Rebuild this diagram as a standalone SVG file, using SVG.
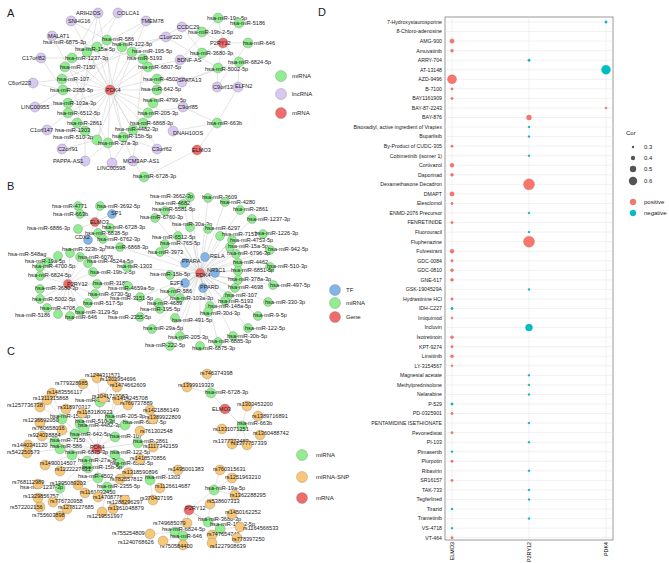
<svg xmlns="http://www.w3.org/2000/svg" width="669" height="563" viewBox="0 0 669 563">
<style>
.e{stroke:#c4c4c4;stroke-width:0.45;fill:none}
.g{fill:#90ee90;stroke:#6a6a6a;stroke-width:0.3}
.p{fill:#d8c8f2;stroke:#6a6a6a;stroke-width:0.3}
.r{fill:#f06b6b;stroke:#6a6a6a;stroke-width:0.3}
.b{fill:#82b4e8;stroke:#6a6a6a;stroke-width:0.3}
.o{fill:#f8c778;stroke:#6a6a6a;stroke-width:0.3}
text{font-family:"Liberation Sans",Arial,sans-serif;font-size:5.6px;fill:#1a1a1a}
.pl{font-size:11px}
.lg{font-size:6px}
.dl{font-size:5.2px;text-anchor:end}
.ax{font-size:5.4px;text-anchor:end;fill:#000}
.grid{stroke:#e3e3e3;stroke-width:0.5;fill:none}
.dp{fill:#F8766D;stroke:#c85a52;stroke-width:0.3}
.dn{fill:#00BFC4;stroke:#00979b;stroke-width:0.3}
</style>
<rect width="669" height="563" fill="#ffffff"/>
<text class="pl" x="7" y="17">A</text>
<text class="pl" x="7" y="190">B</text>
<text class="pl" x="7" y="355">C</text>
<text class="pl" x="318" y="16">D</text>

<g id="connectors">
<path class="e" d="M110 90L107 40M110 90L97 47M110 90L122 47M110 90L87 52M110 90L132 52M110 90L72 58M110 90L143 59M110 90L65 67M110 90L148 67M110 90L62 79M110 90L157 79M110 90L63 90M110 90L157 90M110 90L68 103M110 90L153 103M110 90L68 113M110 90L148 113M110 90L77 123M110 90L143 123M110 90L85 131M110 90L133 130M110 90L97 140M110 90L123 137M110 90L108 143M223 43L218 18M223 43L239 23M223 43L202 32M223 43L248 43M223 43L202 53M223 43L239 62M223 43L218 68M197 150L217 123M197 150L144 177M98 13L72 58M98 13L77 123M98 13L123 137M118 13L65 67M118 13L68 113M71 21L107 40M71 21L133 130M146 21L97 47M146 21L68 103M146 21L97 140M52 36L87 52M52 36L143 59M52 36L108 143M166 37L122 47M166 37L62 79M166 37L218 68M182 27L202 32M182 27L202 53M182 27L132 52M41 58L72 58M41 58L63 90M180 60L202 53M180 60L148 67M180 60L218 18M33 83L62 79M33 83L63 90M182 82L239 62M182 82L157 79M182 82L218 68M217 87L218 68M217 87L248 43M238 87L239 62M238 87L217 123M35 107L68 103M35 107L63 90M183 107L157 90M183 107L148 113M183 107L217 123M47 130L68 113M47 130L85 131M173 131L217 123M173 131L153 103M62 149L97 140M62 149L77 123M157 149L123 137M157 149L143 123M85 161L108 143M85 161L85 131M112 163L108 143M112 163L133 130M133 161L144 177M133 161L123 137M133 161L143 59"/>
<path class="e" d="M95 222L78 206M95 222L100 206M95 222L80 214M95 222L78 229M95 222L110 228M95 222L98 233M95 222L103 239M95 222L112 214M95 222L88 240M68 284L58 256M68 284L70 253M68 284L48 262M68 284L80 257M68 284L88 263M68 284L40 267M68 284L93 272M68 284L40 276M68 284L40 289M68 284L97 284M68 284L128 286M68 284L95 294M68 284L40 299M68 284L88 303M68 284L47 308M68 284L80 311M68 284L58 314M68 284L70 316M200 273L205 257M200 273L185 263M200 273L215 273M200 273L185 283M200 273L203 288M200 273L120 247M200 273L127 267M200 273L190 197M200 273L183 204M200 273L165 211M200 273L155 218M200 273L208 198M200 273L225 202M200 273L240 210M200 273L252 219M200 273L190 227M200 273L208 229M200 273L263 234M200 273L220 236M200 273L178 236M200 273L232 240M200 273L165 244M200 273L230 247M200 273L270 250M200 273L160 252M200 273L236 254M200 273L238 263M200 273L270 267M200 273L238 271M200 273L170 275M200 273L238 280M200 273L235 288M200 273L273 285M200 273L172 292M200 273L228 296M200 273L180 298M200 273L225 301M200 273L268 302M200 273L140 297M200 273L158 303M200 273L210 306M200 273L160 309M200 273L208 312M200 273L258 316M200 273L140 317M200 273L175 318M200 273L248 328M200 273L152 329M200 273L180 336M200 273L233 336M200 273L218 342M200 273L170 346M200 273L200 346"/>
<path class="e" d="M97 449L100 402M97 449L62 419M97 449L110 418M97 449L80 424M97 449L84 429M97 449L125 425M97 449L75 434M97 449L115 437M97 449L55 442M97 449L138 443M97 449L60 449M97 449L72 455M97 449L115 455M97 449L87 461M97 449L120 463M97 449L88 468M97 449L98 478M97 449L107 487M97 449L60 488M97 449L150 480M100 402L97 378M100 402L112 381M100 402L83 384M110 418L117 387M62 419L52 393M100 402L103 398M110 418L118 400M62 419L47 400M62 419L40 407M80 424L66 409M110 418L128 405M125 425L150 410M80 424L82 413M62 419L40 423M125 425L153 419M75 434L62 430M55 442L42 436M138 443L140 431M55 442L28 445M60 449L27 453M138 443L153 447M72 455L45 465M120 463L140 459M87 461L60 471M120 463L128 473M150 480L178 470M60 488L38 484M98 478L78 485M107 487L120 479M150 480L160 488M107 487L85 493M60 488L38 498M107 487L98 497M150 480L153 500M60 488L53 502M107 487L125 500M60 488L40 507M60 488L67 509M107 487L113 509M60 488L60 516M107 487L102 512M225 409L211 393M225 409L242 426M211 393L207 374M211 393L187 387M242 426L247 406M242 426L258 416M242 426L222 429M242 426L260 435M242 426L232 444M242 426L247 445M189 510L214 490M189 510L208 522M189 510L220 529M189 510L175 532M189 510L183 536M214 490L220 470M214 490L232 478M214 490L235 495M208 522L210 504M208 522L232 514M175 532L187 523M220 529L240 527M220 529L212 535M220 529L237 538M183 536L183 545M220 529L212 543M175 532L150 534M183 536L163 541"/>
</g>

<g id="panelA">
<g id="A-miR-586"><circle class="g" cx="107" cy="40" r="5"/><text x="102" y="41">hsa-miR-586</text></g>
<g id="A-miR-6875-3p"><circle class="g" cx="97" cy="47" r="5"/><text x="43" y="44">hsa-miR-6875-3p</text></g>
<g id="A-miR-122-5p"><circle class="g" cx="122" cy="47" r="5"/><text x="112" y="46">hsa-miR-122-5p</text></g>
<g id="A-miR-15a-5p"><circle class="g" cx="87" cy="52" r="5"/><text x="75" y="51">hsa-miR-15a-5p</text></g>
<g id="A-miR-195-5p"><circle class="g" cx="132" cy="52" r="5"/><text x="132" y="53">hsa-miR-195-5p</text></g>
<g id="A-miR-1237-3p"><circle class="g" cx="72" cy="58" r="5"/><text x="65" y="60">hsa-miR-1237-3p</text></g>
<g id="A-miR-5193"><circle class="g" cx="143" cy="59" r="5"/><text x="127" y="60">hsa-miR-5193</text></g>
<g id="A-miR-7150"><circle class="g" cx="65" cy="67" r="5"/><text x="60" y="69">hsa-miR-7150</text></g>
<g id="A-miR-6807-5p"><circle class="g" cx="148" cy="67" r="5"/><text x="138" y="69">hsa-miR-6807-5p</text></g>
<g id="A-miR-107"><circle class="g" cx="62" cy="79" r="5"/><text x="57" y="81">hsa-miR-107</text></g>
<g id="A-miR-4502"><circle class="g" cx="157" cy="79" r="5"/><text x="143" y="81">hsa-miR-4502</text></g>
<g id="A-miR-2355-5p"><circle class="g" cx="63" cy="90" r="5"/><text x="50" y="92">hsa-miR-2355-5p</text></g>
<g id="A-miR-642-5p"><circle class="g" cx="157" cy="90" r="5"/><text x="141" y="91">hsa-miR-642-5p</text></g>
<g id="A-miR-103a-3p"><circle class="g" cx="68" cy="103" r="5"/><text x="53" y="105">hsa-miR-103a-3p</text></g>
<g id="A-miR-4799-5p"><circle class="g" cx="153" cy="103" r="5"/><text x="143" y="102">hsa-miR-4799-5p</text></g>
<g id="A-miR-6512-5p"><circle class="g" cx="68" cy="113" r="5"/><text x="57" y="115">hsa-miR-6512-5p</text></g>
<g id="A-miR-205-3p"><circle class="g" cx="148" cy="113" r="5"/><text x="138" y="115">hsa-miR-205-3p</text></g>
<g id="A-miR-2861"><circle class="g" cx="77" cy="123" r="5"/><text x="67" y="125">hsa-miR-2861</text></g>
<g id="A-miR-6868-3p"><circle class="g" cx="143" cy="123" r="5"/><text x="130" y="125">hsa-miR-6868-3p</text></g>
<g id="A-miR-1303"><circle class="g" cx="85" cy="131" r="5"/><text x="55" y="132">hsa-miR-1303</text></g>
<g id="A-miR-4482-3p"><circle class="g" cx="133" cy="130" r="5"/><text x="115" y="131">hsa-miR-4482-3p</text></g>
<g id="A-miR-510-3p"><circle class="g" cx="97" cy="140" r="5"/><text x="53" y="139">hsa-miR-510-3p</text></g>
<g id="A-miR-15b-5p"><circle class="g" cx="123" cy="137" r="5"/><text x="112" y="138">hsa-miR-15b-5p</text></g>
<g id="A-miR-27a-3p"><circle class="g" cx="108" cy="143" r="5"/><text x="98" y="145">hsa-miR-27a-3p</text></g>
<g id="A-miR-6728-3p"><circle class="g" cx="144" cy="177" r="5"/><text x="133" y="178">hsa-miR-6728-3p</text></g>
<g id="A-miR-663b"><circle class="g" cx="217" cy="123" r="5"/><text x="207" y="125">hsa-miR-663b</text></g>
<g id="A-miR-19a-5p"><circle class="g" cx="218" cy="18" r="5"/><text x="207" y="20">hsa-miR-19a-5p</text></g>
<g id="A-miR-5186"><circle class="g" cx="239" cy="23" r="5"/><text x="230" y="25">hsa-miR-5186</text></g>
<g id="A-miR-19b-2-5p"><circle class="g" cx="202" cy="32" r="5"/><text x="188" y="34">hsa-miR-19b-2-5p</text></g>
<g id="A-miR-646"><circle class="g" cx="248" cy="43" r="5"/><text x="243" y="45">hsa-miR-646</text></g>
<g id="A-miR-3680-3p"><circle class="g" cx="202" cy="53" r="5"/><text x="190" y="55">hsa-miR-3680-3p</text></g>
<g id="A-miR-6824-5p"><circle class="g" cx="239" cy="62" r="5"/><text x="228" y="64">hsa-miR-6824-5p</text></g>
<g id="A-miR-5002-5p"><circle class="g" cx="218" cy="68" r="5"/><text x="205" y="71">hsa-miR-5002-5p</text></g>
<g id="A-ARIH2OS"><circle class="p" cx="98" cy="13" r="5"/><text x="76" y="15">ARIH2OS</text></g>
<g id="A-COLCA1"><circle class="p" cx="118" cy="13" r="5"/><text x="117" y="15">COLCA1</text></g>
<g id="A-SNHG16"><circle class="p" cx="71" cy="21" r="5"/><text x="68" y="23">SNHG16</text></g>
<g id="A-TMEM78"><circle class="p" cx="146" cy="21" r="5"/><text x="141" y="23">TMEM78</text></g>
<g id="A-MALAT1"><circle class="p" cx="52" cy="36" r="5"/><text x="48" y="38">MALAT1</text></g>
<g id="A-C1orf220"><circle class="p" cx="166" cy="37" r="5"/><text x="159" y="39">C1orf220</text></g>
<g id="A-CCDC29"><circle class="p" cx="182" cy="27" r="5"/><text x="177" y="29">CCDC29</text></g>
<g id="A-C17orf82"><circle class="p" cx="41" cy="58" r="5"/><text x="22" y="60">C17orf82</text></g>
<g id="A-BDNF-AS"><circle class="p" cx="180" cy="60" r="5"/><text x="177" y="62">BDNF-AS</text></g>
<g id="A-C6orf223"><circle class="p" cx="33" cy="83" r="5"/><text x="8" y="85">C6orf223</text></g>
<g id="A-SPATA13"><circle class="p" cx="182" cy="82" r="5"/><text x="178" y="82">SPATA13</text></g>
<g id="A-C9orf139"><circle class="p" cx="217" cy="87" r="5"/><text x="213" y="89">C9orf139</text></g>
<g id="A-ELFN2"><circle class="p" cx="238" cy="87" r="5"/><text x="235" y="88">ELFN2</text></g>
<g id="A-LINC00955"><circle class="p" cx="35" cy="107" r="5"/><text x="21" y="109">LINC00955</text></g>
<g id="A-C9orf85"><circle class="p" cx="183" cy="107" r="5"/><text x="178" y="109">C9orf85</text></g>
<g id="A-C1orf147"><circle class="p" cx="47" cy="130" r="5"/><text x="30" y="132">C1orf147</text></g>
<g id="A-DNAH10OS"><circle class="p" cx="173" cy="131" r="5"/><text x="173" y="135">DNAH10OS</text></g>
<g id="A-C2orf91"><circle class="p" cx="62" cy="149" r="5"/><text x="58" y="151">C2orf91</text></g>
<g id="A-C3orf62"><circle class="p" cx="157" cy="149" r="5"/><text x="152" y="151">C3orf62</text></g>
<g id="A-PAPPA-AS1"><circle class="p" cx="85" cy="161" r="5"/><text x="53" y="163">PAPPA-AS1</text></g>
<g id="A-LINC00598"><circle class="p" cx="112" cy="163" r="5"/><text x="97" y="170">LINC00598</text></g>
<g id="A-MCM3AP-AS1"><circle class="p" cx="133" cy="161" r="5"/><text x="123" y="163">MCM3AP-AS1</text></g>
<g id="A-P2RY12"><circle class="r" cx="223" cy="43" r="5"/><text x="210" y="45">P2RY12</text></g>
<g id="A-PDK4"><circle class="r" cx="110" cy="90" r="5"/><text x="106" y="92">PDK4</text></g>
<g id="A-ELMO3"><circle class="r" cx="197" cy="150" r="5"/><text x="192" y="152">ELMO3</text></g>
<g id="A-legend">
<circle class="g" cx="281" cy="76" r="5.5"/><text class="lg" x="292" y="78">miRNA</text>
<circle class="p" cx="281" cy="94" r="5.5"/><text class="lg" x="292" y="96">lncRNA</text>
<circle class="r" cx="281" cy="113" r="5.5"/><text class="lg" x="292" y="115">mRNA</text>
</g>
</g>

<g id="panelB">
<g id="B-ELMO3"><circle class="r" cx="95" cy="222" r="4.5"/><text x="90" y="224">ELMO3</text></g>
<g id="B-SP1"><circle class="b" cx="112" cy="214" r="4.5"/><text x="111" y="215">SP1</text></g>
<g id="B-CDX2"><circle class="b" cx="88" cy="240" r="4.5"/><text x="75" y="239">CDX2</text></g>
<g id="B-miR-4771"><circle class="g" cx="78" cy="206" r="4.5"/><text x="52" y="208">hsa-miR-4771</text></g>
<g id="B-miR-3692-5p"><circle class="g" cx="100" cy="206" r="4.5"/><text x="97" y="208">hsa-miR-3692-5p</text></g>
<g id="B-miR-663b"><circle class="g" cx="80" cy="214" r="4.5"/><text x="53" y="216">hsa-miR-663b</text></g>
<g id="B-miR-6886-3p"><circle class="g" cx="78" cy="229" r="4.5"/><text x="27" y="230">hsa-miR-6886-3p</text></g>
<g id="B-miR-6728-3p"><circle class="g" cx="110" cy="228" r="4.5"/><text x="102" y="229">hsa-miR-6728-3p</text></g>
<g id="B-miR-6838-5p"><circle class="g" cx="98" cy="233" r="4.5"/><text x="85" y="235">hsa-miR-6838-5p</text></g>
<g id="B-miR-6762-3p"><circle class="g" cx="103" cy="239" r="4.5"/><text x="97" y="241">hsa-miR-6762-3p</text></g>
<g id="B-P2RY12"><circle class="r" cx="68" cy="284" r="4.5"/><text x="67" y="286">P2RY12</text></g>
<g id="B-miR-548ag"><circle class="g" cx="58" cy="256" r="4.5"/><text x="8" y="256">hsa-miR-548ag</text></g>
<g id="B-miR-323b-3p"><circle class="g" cx="70" cy="253" r="4.5"/><text x="62" y="251">hsa-miR-323b-3p</text></g>
<g id="B-miR-19a-5p"><circle class="g" cx="48" cy="262" r="4.5"/><text x="25" y="263">hsa-miR-19a-5p</text></g>
<g id="B-miR-6076"><circle class="g" cx="80" cy="257" r="4.5"/><text x="78" y="259">hsa-miR-6076</text></g>
<g id="B-miR-4524a-5p"><circle class="g" cx="88" cy="263" r="4.5"/><text x="87" y="263">hsa-miR-4524a-5p</text></g>
<g id="B-miR-4700-5p"><circle class="g" cx="40" cy="267" r="4.5"/><text x="32" y="268">hsa-miR-4700-5p</text></g>
<g id="B-miR-19b-2-5p"><circle class="g" cx="93" cy="272" r="4.5"/><text x="90" y="274">hsa-miR-19b-2-5p</text></g>
<g id="B-miR-6824-5p"><circle class="g" cx="40" cy="276" r="4.5"/><text x="28" y="277">hsa-miR-6824-5p</text></g>
<g id="B-miR-3680-3p"><circle class="g" cx="40" cy="289" r="4.5"/><text x="35" y="290">hsa-miR-3680-3p</text></g>
<g id="B-miR-3182"><circle class="g" cx="97" cy="284" r="4.5"/><text x="93" y="285">hsa-miR-3182</text></g>
<g id="B-miR-4659a-5p"><circle class="g" cx="128" cy="286" r="4.5"/><text x="108" y="290">hsa-miR-4659a-5p</text></g>
<g id="B-miR-6730-5p"><circle class="g" cx="95" cy="294" r="4.5"/><text x="88" y="296">hsa-miR-6730-5p</text></g>
<g id="B-miR-5002-5p"><circle class="g" cx="40" cy="299" r="4.5"/><text x="32" y="301">hsa-miR-5002-5p</text></g>
<g id="B-miR-517-5p"><circle class="g" cx="88" cy="303" r="4.5"/><text x="83" y="305">hsa-miR-517-5p</text></g>
<g id="B-miR-4708"><circle class="g" cx="47" cy="308" r="4.5"/><text x="40" y="310">hsa-miR-4708</text></g>
<g id="B-miR-3129-5p"><circle class="g" cx="80" cy="311" r="4.5"/><text x="75" y="314">hsa-miR-3129-5p</text></g>
<g id="B-miR-5186"><circle class="g" cx="58" cy="314" r="4.5"/><text x="15" y="317">hsa-miR-5186</text></g>
<g id="B-miR-646"><circle class="g" cx="70" cy="316" r="4.5"/><text x="65" y="319">hsa-miR-646</text></g>
<g id="B-PDK4"><circle class="r" cx="200" cy="273" r="4.5"/><text x="196" y="277">PDK4</text></g>
<g id="B-RELA"><circle class="b" cx="205" cy="257" r="4.5"/><text x="210" y="258">RELA</text></g>
<g id="B-PPARA"><circle class="b" cx="185" cy="263" r="4.5"/><text x="182" y="263">PPARA</text></g>
<g id="B-NR3C1"><circle class="b" cx="215" cy="273" r="4.5"/><text x="207" y="272">NR3C1</text></g>
<g id="B-E2F1"><circle class="b" cx="185" cy="283" r="4.5"/><text x="170" y="285">E2F1</text></g>
<g id="B-PPARD"><circle class="b" cx="203" cy="288" r="4.5"/><text x="200" y="289">PPARD</text></g>
<g id="B-miR-6868-3p"><circle class="g" cx="120" cy="247" r="4.5"/><text x="105" y="249">hsa-miR-6868-3p</text></g>
<g id="B-miR-1303"><circle class="g" cx="127" cy="267" r="4.5"/><text x="117" y="268">hsa-miR-1303</text></g>
<g id="B-miR-3662-3p"><circle class="g" cx="190" cy="197" r="4.5"/><text x="150" y="198">hsa-miR-3662-3p</text></g>
<g id="B-miR-4682"><circle class="g" cx="183" cy="204" r="4.5"/><text x="155" y="205">hsa-miR-4682</text></g>
<g id="B-miR-5581-5p"><circle class="g" cx="165" cy="211" r="4.5"/><text x="152" y="211">hsa-miR-5581-5p</text></g>
<g id="B-miR-6760-3p"><circle class="g" cx="155" cy="218" r="4.5"/><text x="140" y="219">hsa-miR-6760-3p</text></g>
<g id="B-miR-3609"><circle class="g" cx="208" cy="198" r="4.5"/><text x="202" y="199">hsa-miR-3609</text></g>
<g id="B-miR-4280"><circle class="g" cx="225" cy="202" r="4.5"/><text x="220" y="204">hsa-miR-4280</text></g>
<g id="B-miR-2861"><circle class="g" cx="240" cy="210" r="4.5"/><text x="233" y="211">hsa-miR-2861</text></g>
<g id="B-miR-1237-3p"><circle class="g" cx="252" cy="219" r="4.5"/><text x="247" y="221">hsa-miR-1237-3p</text></g>
<g id="B-miR-30a-3p"><circle class="g" cx="190" cy="227" r="4.5"/><text x="172" y="226">hsa-miR-30a-3p</text></g>
<g id="B-miR-6297"><circle class="g" cx="208" cy="229" r="4.5"/><text x="205" y="230">hsa-miR-6297</text></g>
<g id="B-miR-1226-3p"><circle class="g" cx="263" cy="234" r="4.5"/><text x="255" y="235">hsa-miR-1226-3p</text></g>
<g id="B-miR-7153"><circle class="g" cx="220" cy="236" r="4.5"/><text x="222" y="236">hsa-miR-7153</text></g>
<g id="B-miR-6512-5p"><circle class="g" cx="178" cy="236" r="4.5"/><text x="152" y="239">hsa-miR-6512-5p</text></g>
<g id="B-miR-4753-5p"><circle class="g" cx="232" cy="240" r="4.5"/><text x="230" y="242">hsa-miR-4753-5p</text></g>
<g id="B-miR-765-5p"><circle class="g" cx="165" cy="244" r="4.5"/><text x="160" y="245">hsa-miR-765-5p</text></g>
<g id="B-miR-15a-5p"><circle class="g" cx="230" cy="247" r="4.5"/><text x="228" y="248">hsa-miR-15a-5p</text></g>
<g id="B-miR-942-5p"><circle class="g" cx="270" cy="250" r="4.5"/><text x="268" y="251">hsa-miR-942-5p</text></g>
<g id="B-miR-3973"><circle class="g" cx="160" cy="252" r="4.5"/><text x="148" y="254">hsa-miR-3973</text></g>
<g id="B-miR-6796-3p"><circle class="g" cx="236" cy="254" r="4.5"/><text x="227" y="255">hsa-miR-6796-3p</text></g>
<g id="B-miR-4462"><circle class="g" cx="238" cy="263" r="4.5"/><text x="233" y="264">hsa-miR-4462</text></g>
<g id="B-miR-510-3p"><circle class="g" cx="270" cy="267" r="4.5"/><text x="267" y="268">hsa-miR-510-3p</text></g>
<g id="B-miR-6851-5p"><circle class="g" cx="238" cy="271" r="4.5"/><text x="231" y="272">hsa-miR-6851-5p</text></g>
<g id="B-miR-15b-5p"><circle class="g" cx="170" cy="275" r="4.5"/><text x="150" y="276">hsa-miR-15b-5p</text></g>
<g id="B-miR-378a-3p"><circle class="g" cx="238" cy="280" r="4.5"/><text x="228" y="281">hsa-miR-378a-3p</text></g>
<g id="B-miR-4698"><circle class="g" cx="235" cy="288" r="4.5"/><text x="228" y="289">hsa-miR-4698</text></g>
<g id="B-miR-497-5p"><circle class="g" cx="273" cy="285" r="4.5"/><text x="270" y="287">hsa-miR-497-5p</text></g>
<g id="B-miR-586"><circle class="g" cx="172" cy="292" r="4.5"/><text x="160" y="293">hsa-miR-586</text></g>
<g id="B-miR-107"><circle class="g" cx="228" cy="296" r="4.5"/><text x="225" y="297">hsa-miR-107</text></g>
<g id="B-miR-103a-3p"><circle class="g" cx="180" cy="298" r="4.5"/><text x="170" y="300">hsa-miR-103a-3p</text></g>
<g id="B-miR-5193"><circle class="g" cx="225" cy="301" r="4.5"/><text x="218" y="303">hsa-miR-5193</text></g>
<g id="B-miR-330-3p"><circle class="g" cx="268" cy="302" r="4.5"/><text x="265" y="304">hsa-miR-330-3p</text></g>
<g id="B-miR-3151-5p"><circle class="g" cx="140" cy="297" r="4.5"/><text x="110" y="300">hsa-miR-3151-5p</text></g>
<g id="B-miR-4689"><circle class="g" cx="158" cy="303" r="4.5"/><text x="147" y="305">hsa-miR-4689</text></g>
<g id="B-miR-148a-5p"><circle class="g" cx="210" cy="306" r="4.5"/><text x="208" y="308">hsa-miR-148a-5p</text></g>
<g id="B-miR-195-5p"><circle class="g" cx="160" cy="309" r="4.5"/><text x="140" y="311">hsa-miR-195-5p</text></g>
<g id="B-miR-30d-3p"><circle class="g" cx="208" cy="312" r="4.5"/><text x="200" y="315">hsa-miR-30d-3p</text></g>
<g id="B-miR-9-5p"><circle class="g" cx="258" cy="316" r="4.5"/><text x="253" y="317">hsa-miR-9-5p</text></g>
<g id="B-miR-2355-5p"><circle class="g" cx="140" cy="317" r="4.5"/><text x="108" y="319">hsa-miR-2355-5p</text></g>
<g id="B-miR-491-5p"><circle class="g" cx="175" cy="318" r="4.5"/><text x="172" y="322">hsa-miR-491-5p</text></g>
<g id="B-miR-122-5p"><circle class="g" cx="248" cy="328" r="4.5"/><text x="245" y="330">hsa-miR-122-5p</text></g>
<g id="B-miR-29a-5p"><circle class="g" cx="152" cy="329" r="4.5"/><text x="143" y="330">hsa-miR-29a-5p</text></g>
<g id="B-miR-205-3p"><circle class="g" cx="180" cy="336" r="4.5"/><text x="168" y="339">hsa-miR-205-3p</text></g>
<g id="B-miR-30b-5p"><circle class="g" cx="233" cy="336" r="4.5"/><text x="227" y="338">hsa-miR-30b-5p</text></g>
<g id="B-miR-6885-3p"><circle class="g" cx="218" cy="342" r="4.5"/><text x="208" y="343">hsa-miR-6885-3p</text></g>
<g id="B-miR-222-5p"><circle class="g" cx="170" cy="346" r="4.5"/><text x="145" y="347">hsa-miR-222-5p</text></g>
<g id="B-miR-6875-3p"><circle class="g" cx="200" cy="346" r="4.5"/><text x="192" y="350">hsa-miR-6875-3p</text></g>
<g id="B-legend">
<circle class="b" cx="335" cy="290" r="5.5"/><text class="lg" x="346" y="292">TF</text>
<circle class="g" cx="335" cy="303" r="5.5"/><text class="lg" x="346" y="305">miRNA</text>
<circle class="r" cx="335" cy="317" r="5.5"/><text class="lg" x="346" y="319">Gene</text>
</g>
</g>

<g id="panelC">
<g id="C-PDK4"><circle class="r" cx="97" cy="449" r="5"/><text x="90" y="449">PDK4</text></g>
<g id="C-miR-5193"><circle class="g" cx="100" cy="402" r="5"/><text x="75" y="402">hsa-miR-5193</text></g>
<g id="C-miR-15a-5p"><circle class="g" cx="62" cy="419" r="5"/><text x="50" y="418">hsa-miR-15a-5p</text></g>
<g id="C-miR-205-3p"><circle class="g" cx="110" cy="418" r="5"/><text x="105" y="418">hsa-miR-205-3p</text></g>
<g id="C-miR-510-3p"><circle class="g" cx="80" cy="424" r="5"/><text x="75" y="423">hsa-miR-510-3p</text></g>
<g id="C-miR-4482-3p"><circle class="g" cx="84" cy="429" r="5"/><text x="78" y="427">hsa-miR-4482-3p</text></g>
<g id="C-miR-6807-5p"><circle class="g" cx="125" cy="425" r="5"/><text x="123" y="424">hsa-miR-6807-5p</text></g>
<g id="C-miR-642-5p"><circle class="g" cx="75" cy="434" r="5"/><text x="70" y="436">hsa-miR-642-5p</text></g>
<g id="C-miR-107"><circle class="g" cx="115" cy="437" r="5"/><text x="110" y="438">hsa-miR-107</text></g>
<g id="C-miR-7150"><circle class="g" cx="55" cy="442" r="5"/><text x="50" y="442">hsa-miR-7150</text></g>
<g id="C-miR-2861"><circle class="g" cx="138" cy="443" r="5"/><text x="133" y="443">hsa-miR-2861</text></g>
<g id="C-miR-586"><circle class="g" cx="60" cy="449" r="5"/><text x="50" y="448">hsa-miR-586</text></g>
<g id="C-miR-6875-3p"><circle class="g" cx="72" cy="455" r="5"/><text x="65" y="454">hsa-miR-6875-3p</text></g>
<g id="C-miR-122-5p"><circle class="g" cx="115" cy="455" r="5"/><text x="110" y="454">hsa-miR-122-5p</text></g>
<g id="C-miR-27a-3p"><circle class="g" cx="87" cy="461" r="5"/><text x="78" y="462">hsa-miR-27a-3p</text></g>
<g id="C-miR-6512-5p"><circle class="g" cx="120" cy="463" r="5"/><text x="110" y="465">hsa-miR-6512-5p</text></g>
<g id="C-miR-15b-5p"><circle class="g" cx="88" cy="468" r="5"/><text x="82" y="469">hsa-miR-15b-5p</text></g>
<g id="C-miR-4502"><circle class="g" cx="98" cy="478" r="5"/><text x="78" y="478">hsa-miR-4502</text></g>
<g id="C-miR-2355-5p"><circle class="g" cx="107" cy="487" r="5"/><text x="97" y="488">hsa-miR-2355-5p</text></g>
<g id="C-miR-1237-3p"><circle class="g" cx="60" cy="488" r="5"/><text x="20" y="489">hsa-miR-1237-3p</text></g>
<g id="C-miR-1303"><circle class="g" cx="150" cy="480" r="5"/><text x="145" y="479">hsa-miR-1303</text></g>
<g id="C-rs1244311571"><circle class="o" cx="97" cy="378" r="5"/><text x="85" y="377">rs1244311571</text></g>
<g id="C-rs1302954696"><circle class="o" cx="112" cy="381" r="5"/><text x="100" y="381">rs1302954696</text></g>
<g id="C-rs779328985"><circle class="o" cx="83" cy="384" r="5"/><text x="55" y="385">rs779328985</text></g>
<g id="C-rs1474662609"><circle class="o" cx="117" cy="387" r="5"/><text x="110" y="387">rs1474662609</text></g>
<g id="C-rs1483556117"><circle class="o" cx="52" cy="393" r="5"/><text x="47" y="394">rs1483556117</text></g>
<g id="C-rs1041716983"><circle class="o" cx="103" cy="398" r="5"/><text x="92" y="398">rs1041716983</text></g>
<g id="C-rs1414245708"><circle class="o" cx="118" cy="400" r="5"/><text x="112" y="400">rs1414245708</text></g>
<g id="C-rs1311315868"><circle class="o" cx="47" cy="400" r="5"/><text x="33" y="400">rs1311315868</text></g>
<g id="C-rs1257736738"><circle class="o" cx="40" cy="407" r="5"/><text x="7" y="407">rs1257736738</text></g>
<g id="C-rs318970317"><circle class="o" cx="66" cy="409" r="5"/><text x="58" y="409">rs318970317</text></g>
<g id="C-rs760737889"><circle class="o" cx="128" cy="405" r="5"/><text x="120" y="405">rs760737889</text></g>
<g id="C-rs1421886149"><circle class="o" cx="150" cy="410" r="5"/><text x="143" y="412">rs1421886149</text></g>
<g id="C-rs1183180923"><circle class="o" cx="82" cy="413" r="5"/><text x="77" y="414">rs1183180923</text></g>
<g id="C-rs1236692050"><circle class="o" cx="40" cy="423" r="5"/><text x="23" y="422">rs1236692050</text></g>
<g id="C-rs1389922809"><circle class="o" cx="153" cy="419" r="5"/><text x="145" y="419">rs1389922809</text></g>
<g id="C-rs760658016"><circle class="o" cx="62" cy="430" r="5"/><text x="32" y="430">rs760658016</text></g>
<g id="C-rs924038884"><circle class="o" cx="42" cy="436" r="5"/><text x="28" y="437">rs924038884</text></g>
<g id="C-rs761302548"><circle class="o" cx="140" cy="431" r="5"/><text x="140" y="433">rs761302548</text></g>
<g id="C-rs1440341120"><circle class="o" cx="28" cy="445" r="5"/><text x="12" y="447">rs1440341120</text></g>
<g id="C-rs542250573"><circle class="o" cx="27" cy="453" r="5"/><text x="7" y="454">rs542250573</text></g>
<g id="C-rs1117342159"><circle class="o" cx="153" cy="447" r="5"/><text x="143" y="448">rs1117342159</text></g>
<g id="C-rs1490014507"><circle class="o" cx="45" cy="465" r="5"/><text x="40" y="465">rs1490014507</text></g>
<g id="C-rs1418570856"><circle class="o" cx="140" cy="459" r="5"/><text x="130" y="460">rs1418570856</text></g>
<g id="C-rs1222227631"><circle class="o" cx="60" cy="471" r="5"/><text x="55" y="471">rs1222227631</text></g>
<g id="C-rs1318590896"><circle class="o" cx="128" cy="473" r="5"/><text x="122" y="474">rs1318590896</text></g>
<g id="C-rs1495001383"><circle class="o" cx="178" cy="470" r="5"/><text x="168" y="471">rs1495001383</text></g>
<g id="C-rs768112989"><circle class="o" cx="38" cy="484" r="5"/><text x="12" y="484">rs768112989</text></g>
<g id="C-rs1395089203"><circle class="o" cx="78" cy="485" r="5"/><text x="50" y="485">rs1395089203</text></g>
<g id="C-rs782557812"><circle class="o" cx="120" cy="479" r="5"/><text x="110" y="481">rs782557812</text></g>
<g id="C-rs1126614687"><circle class="o" cx="160" cy="488" r="5"/><text x="155" y="488">rs1126614687</text></g>
<g id="C-rs1161032450"><circle class="o" cx="85" cy="493" r="5"/><text x="80" y="494">rs1161032450</text></g>
<g id="C-rs1329856757"><circle class="o" cx="38" cy="498" r="5"/><text x="23" y="498">rs1329856757</text></g>
<g id="C-rs1470877872"><circle class="o" cx="98" cy="497" r="5"/><text x="93" y="499">rs1470877872</text></g>
<g id="C-rs370437195"><circle class="o" cx="153" cy="500" r="5"/><text x="140" y="500">rs370437195</text></g>
<g id="C-rs776730958"><circle class="o" cx="53" cy="502" r="5"/><text x="50" y="503">rs776730958</text></g>
<g id="C-rs1288296297"><circle class="o" cx="125" cy="500" r="5"/><text x="107" y="504">rs1288296297</text></g>
<g id="C-rs572202156"><circle class="o" cx="40" cy="507" r="5"/><text x="10" y="509">rs572202156</text></g>
<g id="C-rs1278127685"><circle class="o" cx="67" cy="509" r="5"/><text x="58" y="509">rs1278127685</text></g>
<g id="C-rs1361048879"><circle class="o" cx="113" cy="509" r="5"/><text x="108" y="510">rs1361048879</text></g>
<g id="C-rs755603898"><circle class="o" cx="60" cy="516" r="5"/><text x="32" y="517">rs755603898</text></g>
<g id="C-rs1219551997"><circle class="o" cx="102" cy="512" r="5"/><text x="87" y="518">rs1219551997</text></g>
<g id="C-ELMO3"><circle class="r" cx="225" cy="409" r="5"/><text x="212" y="411">ELMO3</text></g>
<g id="C-miR-6728-3p"><circle class="g" cx="211" cy="393" r="5"/><text x="205" y="394">hsa-miR-6728-3p</text></g>
<g id="C-miR-663b"><circle class="g" cx="242" cy="426" r="5"/><text x="237" y="425">hsa-miR-663b</text></g>
<g id="C-rs746374398"><circle class="o" cx="207" cy="374" r="5"/><text x="200" y="375">rs746374398</text></g>
<g id="C-rs1399919329"><circle class="o" cx="187" cy="387" r="5"/><text x="178" y="387">rs1399919329</text></g>
<g id="C-rs1303453200"><circle class="o" cx="247" cy="406" r="5"/><text x="237" y="406">rs1303453200</text></g>
<g id="C-rs1389716891"><circle class="o" cx="258" cy="416" r="5"/><text x="252" y="418">rs1389716891</text></g>
<g id="C-rs1331071251"><circle class="o" cx="222" cy="429" r="5"/><text x="213" y="431">rs1331071251</text></g>
<g id="C-rs1360488742"><circle class="o" cx="260" cy="435" r="5"/><text x="253" y="435">rs1360488742</text></g>
<g id="C-rs1377373489"><circle class="o" cx="232" cy="444" r="5"/><text x="213" y="443">rs1377373489</text></g>
<g id="C-rs1377757339"><circle class="o" cx="247" cy="445" r="5"/><text x="231" y="445">rs1377757339</text></g>
<g id="C-P2RY12"><circle class="r" cx="189" cy="510" r="5"/><text x="185" y="510">P2RY12</text></g>
<g id="C-miR-19a-5p"><circle class="g" cx="214" cy="490" r="5"/><text x="205" y="490">hsa-miR-19a-5p</text></g>
<g id="C-miR-3680-3p"><circle class="g" cx="208" cy="522" r="5"/><text x="198" y="521">hsa-miR-3680-3p</text></g>
<g id="C-miR-19b-2-5p"><circle class="g" cx="220" cy="529" r="5"/><text x="210" y="526">hsa-miR-19b-2-5p</text></g>
<g id="C-miR-6824-5p"><circle class="g" cx="175" cy="532" r="5"/><text x="162" y="531">hsa-miR-6824-5p</text></g>
<g id="C-miR-646"><circle class="g" cx="183" cy="536" r="5"/><text x="170" y="538">hsa-miR-646</text></g>
<g id="C-rs760315631"><circle class="o" cx="220" cy="470" r="5"/><text x="213" y="471">rs760315631</text></g>
<g id="C-rs1251963210"><circle class="o" cx="232" cy="478" r="5"/><text x="225" y="479">rs1251963210</text></g>
<g id="C-rs1362288295"><circle class="o" cx="235" cy="495" r="5"/><text x="230" y="497">rs1362288295</text></g>
<g id="C-rs538607313"><circle class="o" cx="210" cy="504" r="5"/><text x="207" y="503">rs538607313</text></g>
<g id="C-rs1450162252"><circle class="o" cx="232" cy="514" r="5"/><text x="225" y="514">rs1450162252</text></g>
<g id="C-rs749685079"><circle class="o" cx="187" cy="523" r="5"/><text x="153" y="525">rs749685079</text></g>
<g id="C-rs1164566533"><circle class="o" cx="240" cy="527" r="5"/><text x="243" y="530">rs1164566533</text></g>
<g id="C-rs747654746"><circle class="o" cx="212" cy="535" r="5"/><text x="207" y="536">rs747654746</text></g>
<g id="C-rs778397250"><circle class="o" cx="237" cy="538" r="5"/><text x="232" y="541">rs778397250</text></g>
<g id="C-rs750584400"><circle class="o" cx="183" cy="545" r="5"/><text x="160" y="548">rs750584400</text></g>
<g id="C-rs1227908639"><circle class="o" cx="212" cy="543" r="5"/><text x="210" y="548">rs1227908639</text></g>
<g id="C-rs755254809"><circle class="o" cx="150" cy="534" r="5"/><text x="112" y="535">rs755254809</text></g>
<g id="C-rs1240768626"><circle class="o" cx="163" cy="541" r="5"/><text x="118" y="544">rs1240768626</text></g>
<g id="C-legend">
<circle class="g" cx="302" cy="455" r="5.5"/><text class="lg" x="316" y="457">miRNA</text>
<circle class="o" cx="302" cy="477" r="5.5"/><text class="lg" x="316" y="479">miRNA-SNP</text>
<circle class="r" cx="302" cy="498" r="5.5"/><text class="lg" x="316" y="500">mRNA</text>
</g>
</g>

<g id="panelD">
<rect x="445" y="17" width="168" height="523" fill="#ffffff" stroke="#555" stroke-width="0.6"/>
<path class="grid" d="M445 22H613M445 31.55H613M445 41.1H613M445 50.65H613M445 60.2H613M445 69.75H613M445 79.3H613M445 88.85H613M445 98.4H613M445 107.95H613M445 117.5H613M445 127.05H613M445 136.6H613M445 146.15H613M445 155.7H613M445 165.25H613M445 174.8H613M445 184.35H613M445 193.9H613M445 203.45H613M445 213H613M445 222.55H613M445 232.1H613M445 241.65H613M445 251.2H613M445 260.75H613M445 270.3H613M445 279.85H613M445 289.4H613M445 298.95H613M445 308.5H613M445 318.05H613M445 327.6H613M445 337.15H613M445 346.7H613M445 356.25H613M445 365.8H613M445 375.35H613M445 384.9H613M445 394.45H613M445 404H613M445 413.55H613M445 423.1H613M445 432.65H613M445 442.2H613M445 451.75H613M445 461.3H613M445 470.85H613M445 480.4H613M445 489.95H613M445 499.5H613M445 509.05H613M445 518.6H613M445 528.15H613M445 537.7H613M452 17V540M529 17V540M606 17V540"/>
<g id="D-labels">
<text class="dl" x="442" y="23.8">7-Hydroxystaurosporine</text>
<text class="dl" x="442" y="33.4">8-Chloro-adenosine</text>
<text class="dl" x="442" y="42.9">AMG-900</text>
<text class="dl" x="442" y="52.5">Amuvatinib</text>
<text class="dl" x="442" y="62">ARRY-704</text>
<text class="dl" x="442" y="71.6">AT-13148</text>
<text class="dl" x="442" y="81.1">AZD-9496</text>
<text class="dl" x="442" y="90.7">B-7100</text>
<text class="dl" x="442" y="100.2">BAY1161909</text>
<text class="dl" x="442" y="109.8">BAY-87-2243</text>
<text class="dl" x="442" y="119.3">BAY-876</text>
<text class="dl" x="442" y="128.9">Bisoxadiyl, active ingredient of Vrapiex</text>
<text class="dl" x="442" y="138.4">Buparlisib</text>
<text class="dl" x="442" y="148">By-Product of CUDC-305</text>
<text class="dl" x="442" y="157.5">Cobimetinib (isomer 1)</text>
<text class="dl" x="442" y="167.1">Cortivazol</text>
<text class="dl" x="442" y="176.6">Daporinad</text>
<text class="dl" x="442" y="186.2">Dexamethasone Decadron</text>
<text class="dl" x="442" y="195.7">DMAPT</text>
<text class="dl" x="442" y="205.3">Elesclomol</text>
<text class="dl" x="442" y="214.8">ENMD-2076 Precursor</text>
<text class="dl" x="442" y="224.4">FENRETINIDE</text>
<text class="dl" x="442" y="233.9">Fluorouracil</text>
<text class="dl" x="442" y="243.5">Fluphenazine</text>
<text class="dl" x="442" y="253">Fulvestrant</text>
<text class="dl" x="442" y="262.6">GDC-0084</text>
<text class="dl" x="442" y="272.1">GDC-0810</text>
<text class="dl" x="442" y="281.7">GNE-617</text>
<text class="dl" x="442" y="291.2">GSK-1904529A</text>
<text class="dl" x="442" y="300.8">Hydrastinine HCl</text>
<text class="dl" x="442" y="310.3">IDH-C227</text>
<text class="dl" x="442" y="319.9">Imiquimod</text>
<text class="dl" x="442" y="329.4">Incluvin</text>
<text class="dl" x="442" y="339">Isotretinoin</text>
<text class="dl" x="442" y="348.5">KPT-9274</text>
<text class="dl" x="442" y="358.1">Linsitinib</text>
<text class="dl" x="442" y="367.6">LY-3154567</text>
<text class="dl" x="442" y="377.2">Magnesial acetate</text>
<text class="dl" x="442" y="386.7">Methylprednisolone</text>
<text class="dl" x="442" y="396.3">Nelarabine</text>
<text class="dl" x="442" y="405.8">P-529</text>
<text class="dl" x="442" y="415.4">PD-0325901</text>
<text class="dl" x="442" y="424.9">PENTAMIDINE ISETHIONATE</text>
<text class="dl" x="442" y="434.5">Pevonedistat</text>
<text class="dl" x="442" y="444">PI-103</text>
<text class="dl" x="442" y="453.6">Pimasertib</text>
<text class="dl" x="442" y="463.1">Plurpotin</text>
<text class="dl" x="442" y="472.7">Ribavirin</text>
<text class="dl" x="442" y="482.2">SR16157</text>
<text class="dl" x="442" y="491.8">TAK-733</text>
<text class="dl" x="442" y="501.3">Tegferlined</text>
<text class="dl" x="442" y="510.9">Tirazid</text>
<text class="dl" x="442" y="520.4">Trametinib</text>
<text class="dl" x="442" y="530">VS-4718</text>
<text class="dl" x="442" y="539.5">VT-464</text>
</g>
<g id="D-axis">
<text class="ax" transform="translate(454,542) rotate(-90)">ELMO3</text>
<text class="ax" transform="translate(531,542) rotate(-90)">P2RY12</text>
<text class="ax" transform="translate(608,542) rotate(-90)">PDK4</text>
</g>
<g id="D-dots">
<circle class="dn" cx="606" cy="22" r="1.2"/>
<circle class="dp" cx="452" cy="41.1" r="2.2"/>
<circle class="dp" cx="452" cy="50.65" r="1.5"/>
<circle class="dn" cx="529" cy="60.2" r="1.2"/>
<circle class="dn" cx="606" cy="69.75" r="4.5"/>
<circle class="dp" cx="452" cy="79.3" r="4.5"/>
<circle class="dp" cx="452" cy="88.85" r="1.2"/>
<circle class="dp" cx="452" cy="98.4" r="1.2"/>
<circle class="dp" cx="606" cy="107.95" r="1"/>
<circle class="dp" cx="529" cy="117.5" r="2.5"/>
<circle class="dn" cx="529" cy="127.05" r="1"/>
<circle class="dn" cx="529" cy="136.6" r="1"/>
<circle class="dp" cx="452" cy="146.15" r="1.2"/>
<circle class="dn" cx="529" cy="155.7" r="1"/>
<circle class="dp" cx="452" cy="165.25" r="2"/>
<circle class="dp" cx="452" cy="174.8" r="1.5"/>
<circle class="dp" cx="529" cy="184.35" r="5.5"/>
<circle class="dp" cx="452" cy="193.9" r="2.2"/>
<circle class="dp" cx="452" cy="203.45" r="1.2"/>
<circle class="dn" cx="529" cy="213" r="1"/>
<circle class="dp" cx="452" cy="222.55" r="1.2"/>
<circle class="dn" cx="529" cy="232.1" r="1"/>
<circle class="dp" cx="529" cy="241.65" r="5.5"/>
<circle class="dp" cx="452" cy="251.2" r="2"/>
<circle class="dp" cx="452" cy="260.75" r="1.2"/>
<circle class="dp" cx="452" cy="270.3" r="1.5"/>
<circle class="dp" cx="452" cy="279.85" r="1.5"/>
<circle class="dn" cx="529" cy="289.4" r="1"/>
<circle class="dp" cx="452" cy="298.95" r="1.2"/>
<circle class="dn" cx="452" cy="308.5" r="1.2"/>
<circle class="dp" cx="452" cy="318.05" r="1"/>
<circle class="dn" cx="529" cy="327.6" r="3.5"/>
<circle class="dp" cx="452" cy="337.15" r="1.5"/>
<circle class="dp" cx="452" cy="346.7" r="1.2"/>
<circle class="dp" cx="452" cy="356.25" r="1.5"/>
<circle class="dp" cx="452" cy="365.8" r="1"/>
<circle class="dn" cx="529" cy="375.35" r="1"/>
<circle class="dn" cx="529" cy="384.9" r="1"/>
<circle class="dn" cx="529" cy="394.45" r="1"/>
<circle class="dn" cx="452" cy="404" r="1.2"/>
<circle class="dp" cx="452" cy="413.55" r="1.2"/>
<circle class="dn" cx="529" cy="423.1" r="1"/>
<circle class="dp" cx="452" cy="432.65" r="1.2"/>
<circle class="dn" cx="529" cy="442.2" r="1"/>
<circle class="dn" cx="452" cy="451.75" r="1"/>
<circle class="dp" cx="452" cy="461.3" r="1.2"/>
<circle class="dn" cx="529" cy="470.85" r="1"/>
<circle class="dp" cx="452" cy="480.4" r="1.2"/>
<circle class="dn" cx="529" cy="489.95" r="1"/>
<circle class="dn" cx="529" cy="499.5" r="1"/>
<circle class="dn" cx="452" cy="509.05" r="1"/>
<circle class="dn" cx="529" cy="518.6" r="1"/>
<circle class="dn" cx="452" cy="528.15" r="1"/>
<circle class="dp" cx="452" cy="537.7" r="1.2"/>
</g>
<g id="D-legend">
<text class="lg" x="626" y="135">Cor</text>
<circle cx="633" cy="147" r="1.2" fill="#555"/><text class="lg" x="644" y="149">0.3</text>
<circle cx="633" cy="158" r="2.2" fill="#555"/><text class="lg" x="644" y="160">0.4</text>
<circle cx="633" cy="169" r="3.2" fill="#555"/><text class="lg" x="644" y="171">0.5</text>
<circle cx="633" cy="181" r="4.2" fill="#555"/><text class="lg" x="644" y="183">0.6</text>
<circle class="dp" cx="633" cy="202" r="3"/><text class="lg" x="644" y="204">positive</text>
<circle class="dn" cx="633" cy="213" r="3"/><text class="lg" x="644" y="215">negative</text>
</g>
</g>
</svg>
